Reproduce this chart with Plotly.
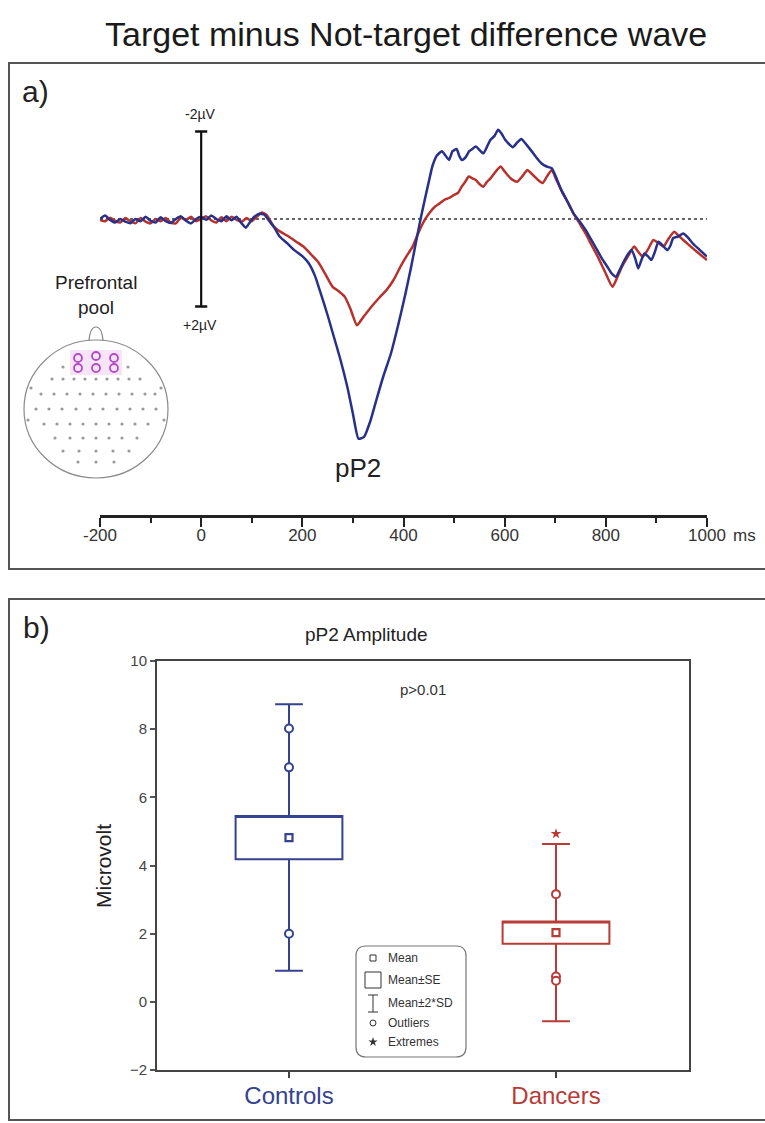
import plotly.graph_objects as go

W, H = 765, 1123
def X(p): return p / W
def Y(p): return 1 - p / H

FONT = "Liberation Sans, Arial, sans-serif"
BLUE = "#28318a"
RED = "#b8322d"
BLUE_B = "#34428f"
RED_B = "#b83b36"

# ---------------- Panel a data (ms, microvolt; positive plotted downward) -------------
T_CONTROLS = [-200,-190,-180,-170,-160,-150,-140,-130,-120,-110,-100,-90,-80,-70,-60,-50,-40,-30,-20,-10,
              0,10,20,30,40,50,60,70,80,88,96,105,115,125,135,
              145,155,170,183,200,212,225,235,250,260,275,289,300,311,322,335,346,360,375,390,404,415,423,432,
              442,450,457,466,476,483,490,497,505,510,515,522,530,536,543,550,558,565,572,580,587,594,601,608,
              616,625,633,643,654,663,673,683,693,700,712,724,736,748,760,770,779,792,803,812,820,828,837,844,
              851,858,864,870,876,883,890,897,904,912,922,928,933,943,953,962,972,985,1000]
UV_CONTROLS = [0.0,-0.08,0.02,0.08,0.0,0.06,0.1,0.0,0.05,-0.05,0.04,0.08,-0.04,0.05,0.09,0.0,-0.06,0.04,0.1,0.0,
               -0.05,0.02,-0.08,0.0,0.05,-0.06,0.03,-0.05,0.1,0.2,0.08,-0.05,-0.12,-0.1,0.05,
               0.2,0.4,0.55,0.7,0.85,1.0,1.3,1.65,2.2,2.6,3.2,3.84,4.45,5.02,4.98,4.6,4.15,3.6,3.08,2.4,1.7,1.1,0.63,0.1,
               -0.44,-0.85,-1.2,-1.45,-1.55,-1.45,-1.35,-1.55,-1.6,-1.45,-1.35,-1.4,-1.55,-1.6,-1.66,-1.58,-1.5,-1.65,-1.81,-1.9,-2.04,-1.95,-1.81,-1.72,
               -1.64,-1.75,-1.83,-1.7,-1.54,-1.4,-1.27,-1.2,-1.16,-1.0,-0.66,-0.4,-0.13,0.05,0.25,0.45,0.63,0.9,1.09,1.25,1.32,1.15,0.94,0.8,
               0.71,0.9,1.13,0.95,0.79,0.85,0.94,0.75,0.52,0.6,0.71,0.6,0.44,0.4,0.33,0.42,0.56,0.7,0.86]

T_DANCERS = [-200,-190,-180,-170,-160,-150,-140,-130,-120,-110,-100,-90,-80,-70,-60,-50,-40,-30,-20,-10,
             0,10,20,30,40,50,60,70,80,90,100,110,120,130,
             144,158,173,188,202,215,231,245,260,272,284,295,308,320,337,352,366,380,394,406,418,430,442,452,462,472,
             481,490,500,508,515,522,529,536,543,550,558,565,572,582,592,599,606,615,625,635,645,652,659,667,675,684,
             693,702,712,724,736,748,760,772,784,798,813,822,832,844,856,864,873,883,894,904,914,924,935,944,953,965,980,1000]
UV_DANCERS = [0.02,0.05,-0.03,0.04,0.08,-0.02,0.05,0.1,-0.02,0.06,0.1,0.0,0.05,-0.02,0.08,0.1,-0.03,0.02,-0.05,0.05,
              0.0,-0.06,0.03,0.08,-0.04,0.05,-0.05,0.02,0.06,-0.02,0.05,-0.05,-0.15,-0.08,
              0.18,0.3,0.4,0.52,0.63,0.78,0.98,1.25,1.55,1.65,1.78,2.05,2.43,2.25,2.0,1.8,1.63,1.4,1.09,0.85,0.63,0.3,0.02,-0.15,-0.28,-0.36,
              -0.44,-0.48,-0.55,-0.6,-0.74,-0.85,-0.97,-0.93,-0.89,-0.8,-0.74,-0.85,-0.93,-1.08,-1.2,-1.1,-1.0,-0.9,-0.85,-0.98,-1.12,-1.05,-0.97,-0.88,-0.82,-0.98,
              -1.12,-0.9,-0.66,-0.4,-0.13,0.1,0.33,0.6,0.86,1.2,1.55,1.35,1.09,0.85,0.63,0.75,0.86,0.7,0.48,0.55,0.63,0.45,0.29,0.38,0.48,0.6,0.75,0.94]

X_TICKS_A = [-200, 0, 200, 400, 600, 800, 1000]
SCALE_UV = 2
PEAK_LABEL = "pP2"

# ---------------- Panel b data ----------------
GROUPS = ["Controls", "Dancers"]
MEAN = [4.82, 2.03]
SE = [0.635, 0.325]
SD = [1.955, 1.30]
OUTLIERS = [[8.02, 6.88, 2.0], [3.16, 0.74, 0.62]]
EXTREMES = [[], [4.93]]
Y_TICKS_B = [-2, 0, 2, 4, 6, 8, 10]
P_TEXT = "p>0.01"

fig = go.Figure()

# ---- panel a axes geometry ----
A_TOP, A_BOT, A_ZERO, A_PXUV = 110, 515, 219, 43.75
ya_range = [(A_BOT - A_ZERO) / A_PXUV, -(A_ZERO - A_TOP) / A_PXUV]

fig.add_trace(go.Scatter(x=[X_TICKS_A[0], X_TICKS_A[-1]], y=[0, 0], mode="lines",
                         line=dict(color="#333", width=1.3, dash="dot"), xaxis="x", yaxis="y", hoverinfo="skip"))
fig.add_trace(go.Scatter(x=T_DANCERS, y=UV_DANCERS, mode="lines", line=dict(color=RED, width=2.5, shape="spline", smoothing=0.5),
                         xaxis="x", yaxis="y", name="Dancers"))
fig.add_trace(go.Scatter(x=T_CONTROLS, y=UV_CONTROLS, mode="lines", line=dict(color=BLUE, width=2.5, shape="spline", smoothing=0.5),
                         xaxis="x", yaxis="y", name="Controls"))

# scale bar
fig.add_trace(go.Scatter(x=[0, 0], y=[-SCALE_UV, SCALE_UV], mode="lines", line=dict(color="#111", width=2.2),
                         xaxis="x", yaxis="y", hoverinfo="skip"))
for v in (-SCALE_UV, SCALE_UV):
    fig.add_trace(go.Scatter(x=[-12, 12], y=[v, v], mode="lines", line=dict(color="#111", width=2.5),
                             xaxis="x", yaxis="y", hoverinfo="skip"))

# ---- panel b ----
for i, g in enumerate(GROUPS):
    col = BLUE_B if i == 0 else RED_B
    fig.add_trace(go.Box(x=[i], q1=[MEAN[i] - SE[i]], median=[MEAN[i] + SE[i]], q3=[MEAN[i] + SE[i]],
                         lowerfence=[MEAN[i] - 2 * SD[i]], upperfence=[MEAN[i] + 2 * SD[i]],
                         width=0.4, whiskerwidth=0.26, boxpoints=False,
                         line=dict(color=col, width=2), fillcolor="rgba(255,255,255,0)",
                         xaxis="x2", yaxis="y2", name=g))
    fig.add_trace(go.Scatter(x=[i], y=[MEAN[i]], mode="markers",
                             marker=dict(symbol="square-open", size=7, color=col, line=dict(width=2.2, color=col)),
                             xaxis="x2", yaxis="y2"))
    fig.add_trace(go.Scatter(x=[i] * len(OUTLIERS[i]), y=OUTLIERS[i], mode="markers",
                             marker=dict(symbol="circle", size=8, color="white", line=dict(width=2, color=col)),
                             xaxis="x2", yaxis="y2"))
    if EXTREMES[i]:
        fig.add_trace(go.Scatter(x=[i] * len(EXTREMES[i]), y=EXTREMES[i], mode="markers",
                                 marker=dict(symbol="star", size=8, color=col),
                                 xaxis="x2", yaxis="y2"))

# ---- overlay (pixel space) for head map & legend ----
ov = dict(xaxis="x3", yaxis="y3", hoverinfo="skip", showlegend=False)
HX, HY = 96, 409
rows = [(367, [63, 128]),
        (379, [52, 63, 74, 85, 96, 107, 118, 129, 140]),
        (388, [31, 161]),
        (394, [41, 54, 67, 80, 93, 106, 119, 132, 145, 155]),
        (409, [36, 49, 62, 76, 90, 103, 117, 130, 143, 156]),
        (424, [44, 57, 70, 83, 96, 109, 122, 135, 148]),
        (438, [55, 70, 83, 96, 109, 122, 137]),
        (451, [63, 79, 96, 113, 129]),
        (462, [78, 96, 114]),
        (420, [28]), (420, [164])]
dx, dy = [], []
for yy, xs in rows:
    for xx in xs:
        dx.append(xx); dy.append(yy)
fig.add_trace(go.Scatter(x=dx, y=dy, mode="markers", marker=dict(size=3.2, color="#9a9a9a"), **ov))
ex = [78, 78, 96, 96, 114, 114]
ey = [358, 368, 356, 368, 358, 368]
fig.add_trace(go.Scatter(x=ex, y=ey, mode="markers",
                         marker=dict(symbol="circle-open", size=8, color="#b04cc4", line=dict(width=1.8)), **ov))

# legend symbols
LX = 373
fig.add_trace(go.Scatter(x=[LX], y=[958], mode="markers",
                         marker=dict(symbol="square-open", size=6, color="#333", line=dict(width=1)), **ov))
fig.add_trace(go.Scatter(x=[LX], y=[1023], mode="markers",
                         marker=dict(symbol="circle-open", size=6, color="#333", line=dict(width=1)), **ov))
fig.add_trace(go.Scatter(x=[LX], y=[1042], mode="markers",
                         marker=dict(symbol="star", size=7, color="#333"), **ov))
fig.add_trace(go.Scatter(x=[LX, LX, None, LX - 5, LX + 5, None, LX - 5, LX + 5],
                         y=[995, 1012, None, 995, 995, None, 1012, 1012], mode="lines",
                         line=dict(color="#333", width=1), **ov))

shapes = []
# panel frames
shapes.append(dict(type="rect", xref="paper", yref="paper", x0=X(9), x1=X(800), y0=Y(63), y1=Y(569),
                   line=dict(color="#555", width=2)))
shapes.append(dict(type="rect", xref="paper", yref="paper", x0=X(9), x1=X(800), y0=Y(599), y1=Y(1120),
                   line=dict(color="#555", width=2)))
# head
shapes.append(dict(type="rect", xref="x3", yref="y3", x0=70, x1=122, y0=350, y1=375,
                   fillcolor="#f7e4f7", line=dict(width=0), layer="below"))
shapes.append(dict(type="circle", xref="x3", yref="y3", x0=HX - 72, x1=HX + 72, y0=HY - 69, y1=HY + 69,
                   line=dict(color="#8a8a8a", width=1.2)))
shapes.append(dict(type="path", xref="x3", yref="y3", path=f"M {HX-7} 341 Q {HX-6} 327 {HX} 327 Q {HX+6} 327 {HX+7} 341",
                   line=dict(color="#8a8a8a", width=1.2)))
# legend rounded box
x0, x1, y0, y1, r = 356, 466, 946, 1057, 10
shapes.append(dict(type="path", xref="x3", yref="y3",
                   path=(f"M {x0+r} {y0} L {x1-r} {y0} Q {x1} {y0} {x1} {y0+r} L {x1} {y1-r} Q {x1} {y1} {x1-r} {y1} "
                         f"L {x0+r} {y1} Q {x0} {y1} {x0} {y1-r} L {x0} {y0+r} Q {x0} {y0} {x0+r} {y0} Z"),
                   line=dict(color="#777", width=1.2)))
shapes.append(dict(type="rect", xref="x3", yref="y3", x0=LX - 8, x1=LX + 8, y0=972, y1=988,
                   line=dict(color="#333", width=1)))

ann = []
def txt(x, y, s, size, color="#222", xanchor="center", **kw):
    ann.append(dict(x=X(x), y=Y(y), xref="paper", yref="paper", text=s, showarrow=False,
                    font=dict(family=FONT, size=size, color=color), xanchor=xanchor, yanchor="middle", **kw))

txt(406, 34, "Target minus Not-target difference wave", 34, "#1a1a1a")
txt(20, 91, "a)", 30, "#222", xanchor="left")
txt(200, 114, "-2µV", 14, "#222")
txt(200, 325, "+2µV", 14, "#222")
txt(96, 282, "Prefrontal", 19, "#222")
txt(96, 307, "pool", 19, "#222")
txt(731, 535, "ms", 17, "#333", xanchor="left")
ann.append(dict(x=310, y=5.7, xref="x", yref="y", text=PEAK_LABEL, showarrow=False,
                font=dict(family=FONT, size=26, color="#222"), xanchor="center", yanchor="middle"))
txt(21, 627, "b)", 30, "#222", xanchor="left")
txt(366, 634, "pP2 Amplitude", 19, "#222")
ann.append(dict(x=0.5, y=9.15, xref="x2", yref="y2", text=P_TEXT, showarrow=False,
                font=dict(family=FONT, size=15, color="#333"), xanchor="center", yanchor="middle"))
txt(103, 866, "Microvolt", 21, "#222", textangle=-90)
for t, yy in [("Mean", 958), ("Mean±SE", 980), ("Mean±2*SD", 1003), ("Outliers", 1023), ("Extremes", 1042)]:
    txt(386, yy, t, 12, "#333", xanchor="left")

xa_range_b = [-(289 - 157) / 267, 1 + (689 - 556) / 267]

fig.update_layout(
    width=W, height=H, margin=dict(l=0, r=0, t=0, b=0, pad=0, autoexpand=False), autosize=False,
    paper_bgcolor="white", plot_bgcolor="rgba(0,0,0,0)", showlegend=False,
    font=dict(family=FONT),
    xaxis=dict(domain=[X(100), X(707)], range=[-200, 1000], anchor="y",
               tickmode="array", tickvals=X_TICKS_A, ticktext=[str(v) for v in X_TICKS_A],
               ticks="outside", ticklen=9, tickwidth=2, tickcolor="#222", ticklabelstandoff=-6,
               minor=dict(ticks="outside", ticklen=5, tickwidth=1.5, dtick=100, tick0=-200, tickcolor="#222"),
               showline=True, linewidth=3, linecolor="#222", showgrid=False, zeroline=False, automargin=False,
               tickfont=dict(size=17, color="#333", family=FONT)),
    yaxis=dict(domain=[Y(A_BOT), Y(A_TOP)], range=ya_range, visible=False, anchor="x", automargin=False),
    xaxis2=dict(domain=[X(157), X(689)], range=xa_range_b, anchor="y2",
                tickmode="array", tickvals=[0, 1],
                ticktext=[f"<span style='color:{BLUE_B}'>{GROUPS[0]}</span>",
                          f"<span style='color:{RED_B}'>{GROUPS[1]}</span>"],
                ticks="outside", ticklen=6, tickwidth=2, tickcolor="#444", ticklabelstandoff=-3,
                showline=True, linewidth=2, linecolor="#444", mirror=True, showgrid=False, zeroline=False,
                automargin=False, tickfont=dict(size=24, family=FONT)),
    yaxis2=dict(domain=[Y(1070), Y(661)], range=[-2, 10], anchor="x2",
                tickmode="array", tickvals=Y_TICKS_B, ticks="outside", ticklen=5, tickwidth=1.5, tickcolor="#555",
                showline=True, linewidth=2, linecolor="#444", mirror=True, showgrid=False, zeroline=False,
                automargin=False, tickfont=dict(size=15, color="#444", family=FONT)),
    xaxis3=dict(domain=[0, 1], range=[0, W], visible=False, anchor="y3", automargin=False),
    yaxis3=dict(domain=[0, 1], range=[H, 0], visible=False, anchor="x3", automargin=False),
    shapes=shapes, annotations=ann,
)

fig.write_html("out.html")
